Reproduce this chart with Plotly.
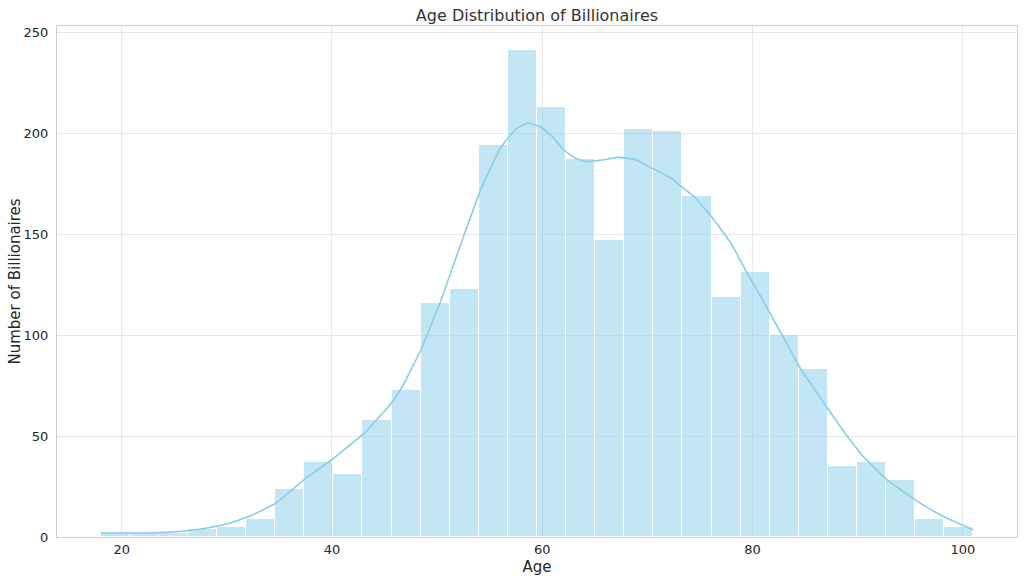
import numpy as np
import plotly.graph_objects as go

# Histogram data (30 equal-width bins between min and max age)
age_min = 18
age_max = 101
bin_counts = [2, 2, 2, 4, 5, 9, 24, 37, 31, 58, 73, 116, 123, 194, 241,
              213, 187, 147, 202, 201, 169, 119, 131, 100, 83, 35, 37, 28, 9, 5]

# KDE curve (scaled to counts)
kde_age = [18, 20, 22, 24, 26, 28, 30.4, 32, 34.65, 37.5, 39.9, 43.05, 45.6, 46.85,
           48.45, 50.35, 52.25, 54.15, 56.06, 57.5, 58.6, 59.87, 61.0, 62.0, 63.0, 64.0,
           65.5, 67.2, 68.8, 70.3, 72.2, 73.35, 74.45, 76.1, 78.0, 79.5, 81, 83.65,
           84.45, 87.1, 89.0, 90.5, 92.85, 95.5, 98.2, 101]
kde_count = [2, 2, 2, 2.3, 3, 4.3, 7.1, 10, 16.7, 29, 38, 51.3, 66, 76,
             92.6, 117, 145, 172, 193, 202, 205, 203, 198, 192, 188, 186,
             186.5, 188, 187, 183, 178, 173, 168.5, 158.6, 145, 130.5, 117, 92,
             84.3, 64, 50, 40, 28, 18.3, 10, 3.5]

x_ticks = [20, 40, 60, 80, 100]
y_ticks = [0, 50, 100, 150, 200, 250]

edges = np.linspace(age_min, age_max, len(bin_counts) + 1)
centers = (edges[:-1] + edges[1:]) / 2
width = edges[1] - edges[0]

text_col = "#262626"
font_fam = "DejaVu Sans, Liberation Sans, sans-serif"

W, H = 1024, 582
ML, MR, MT, MB = 57, 7, 26, 45

fig = go.Figure()
fig.add_trace(go.Bar(
    x=centers, y=bin_counts, width=width,
    marker=dict(color="rgba(135,206,235,0.5)",
                line=dict(color="white", width=1)),
    hoverinfo="x+y", showlegend=False,
))
fig.add_trace(go.Scatter(
    x=kde_age, y=kde_count, mode="lines",
    line=dict(color="#87CEEB", width=1.6, shape="spline", smoothing=0.4),
    showlegend=False,
))

span = age_max - age_min
fig.update_layout(
    width=W, height=H,
    margin=dict(l=ML, r=MR, t=MT, b=MB),
    paper_bgcolor="white", plot_bgcolor="white",
    bargap=0,
    font=dict(family=font_fam, color=text_col, size=13),
    title=dict(text="Age Distribution of Billionaires",
               x=0.5, xref="paper", xanchor="center",
               y=1 - 15 / H, yref="container", yanchor="middle",
               font=dict(size=16, color="#333333")),
    annotations=[dict(
        text="Number of Billionaires", textangle=-90,
        xref="paper", yref="paper",
        x=(14 - ML) / (W - ML - MR), y=0.5,
        xanchor="center", yanchor="middle", showarrow=False,
        font=dict(size=15, color=text_col),
    )],
)
fig.update_xaxes(
    range=[age_min - 0.05 * span, age_max + 0.05 * span],
    tickvals=x_ticks, ticktext=[str(v) for v in x_ticks],
    showgrid=True, gridcolor="#e8e8e8", gridwidth=1, zeroline=False,
    showline=True, linecolor="#cccccc", linewidth=1, mirror=True,
    ticks="", tickfont=dict(size=13, color=text_col),
    title=dict(text="Age", font=dict(size=15, color=text_col), standoff=5),
)
fig.update_yaxes(
    range=[0, max(bin_counts) * 1.05],
    tickvals=y_ticks, ticktext=[str(v) for v in y_ticks],
    showgrid=True, gridcolor="#e8e8e8", gridwidth=1, zeroline=False,
    showline=True, linecolor="#cccccc", linewidth=1, mirror=True,
    ticks="", tickfont=dict(size=13, color=text_col),
    ticklabelstandoff=5,
)

fig.write_html("out.html")
